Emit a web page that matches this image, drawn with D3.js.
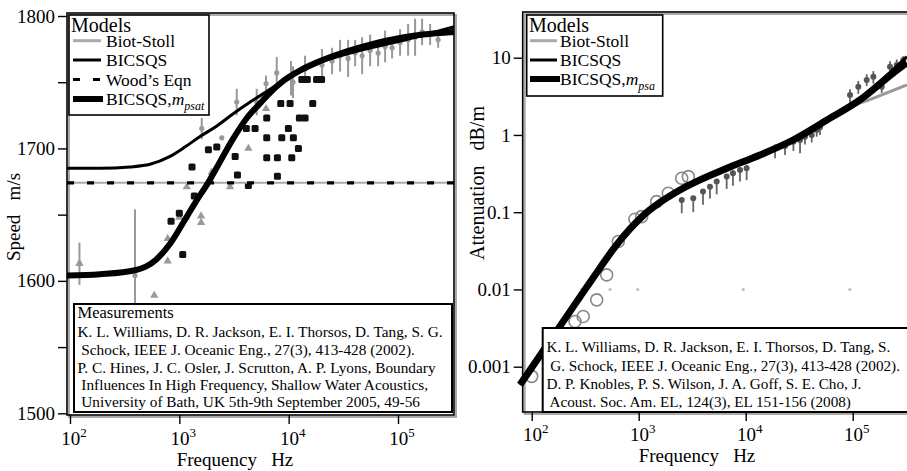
<!DOCTYPE html>
<html><head><meta charset="utf-8">
<script src="https://cdn.jsdelivr.net/npm/d3@7"></script>
<style>
body{margin:0;background:#fff}
svg{display:block;font-family:"Liberation Serif","Times New Roman",serif}
text{white-space:pre}
</style></head><body>
<svg id="c" width="907" height="471"></svg>
<script>
// ---------- tick data ----------
const speedTicks = [1500,1550,1600,1650,1700,1750,1800];
const speedTickLabels = ["1500","","1600","","1700","","1800"];
const freqTicks = [1e2,1e3,1e4,1e5];
const freqTickExp = ["2","3","4","5"];
const attTicks = [0.001,0.01,0.1,1,10];
const attTickLabels = ["0.001","0.01","0.1","1","10"];

// ---------- left panel: speed models ----------
const biotSpeedF = [94,332000];
const biotSpeedV = [1674,1674];
const woodSpeedF = [94,332000];
const woodSpeedV = [1674,1674];
const bicsqsSpeedF = [94,188,354,539,822,1123,1545,2117,3088,4445,6294,8935,12770,19430,36600,104500,332000];
const bicsqsSpeedV = [1685,1685,1686,1688,1694,1701,1709,1716,1726,1735,1743,1751,1758,1765,1772,1781,1792];
const mpsatSpeedF = [94,188,393,612,822,1123,1422,1830,2356,3088,4150,5470,6740,8935,12770,19430,59000,169000,332000];
const mpsatSpeedV = [1604,1605,1608,1616,1628,1646,1660,1674,1690,1707,1723,1734,1742,1751,1759,1766,1779,1786,1788];

// ---------- left panel: measurements ----------
const sqF = [840,1000,1074,1306,1370,1845,2200,3240,3400,4280,4100,4930,6300,6300,6300,7890,7890,8470,8650,9940,10300,10670,11040,12280,12530,13200,14130,14800,16600,18000,20000];
const sqV = [1645,1651,1620,1686,1664,1699,1701,1694,1680,1672,1715,1715,1723,1708,1693,1693,1679,1734,1708,1715,1734,1693,1708,1700,1723,1752,1723,1752,1734,1752,1752];
const triF = [122,590,783,783,1000,1150,1580,1580,1170,1977,2910,4280,6210];
const triV = [1613,1589,1615,1632,1648,1648,1649,1644,1671,1682,1671,1700,1730];
const barF = [122,393,1603,2445,3350,5100,6210,7780,10500,10960,14120,20200,24950,29520,34960,40540,46990,55600,65800,76200,88300,104500,123700,143300,166000,196600,232800];
const barV = [1613,1604,1715,1708,1735,1735,1749,1757,1753,1750,1760,1763,1766,1770,1768,1772,1770,1774,1772,1777,1776,1780,1782,1784,1788,1786,1782];
const barErr = [16,50,8,0,10,10,6,12,13,12,10,12,10,12,14,10,14,12,10,12,8,10,12,14,10,8,6];

// ---------- right panel: attenuation models ----------
const mpsaAttF = [77.8,119.6,183.9,282.8,434.8,600.5,829.3,1145,1582,2432,3740,6686,13600,27700,57500,117000,238000,321000];
const mpsaAttV = [5.83e-4,1.40e-3,3.35e-3,8.02e-3,0.0190,0.0356,0.0608,0.0951,0.134,0.194,0.262,0.371,0.55,0.86,1.56,2.84,6.3,8.6];
const bicsqsAttF = [77.8,119.6,183.9,282.8,434.8,600.5,829.3,1145,1582,2432,3740,6686,13600,27700,57500,117000,238000,321000];
const bicsqsAttV = [5.83e-4,1.40e-3,3.35e-3,8.02e-3,0.0190,0.0356,0.0608,0.0951,0.134,0.194,0.262,0.371,0.55,0.86,1.56,3.0,7.0,10.3];
const biotAttF = [77.8,119.6,183.9,282.8,434.8,600.5,829.3,1145,1582,2432,3740,6686,13600,27700,57500,76000,155000,321000];
const biotAttV = [5.83e-4,1.40e-3,3.35e-3,8.02e-3,0.0190,0.0356,0.0608,0.0951,0.134,0.194,0.262,0.371,0.55,0.86,1.56,2.0,2.98,4.43];

// ---------- right panel: measurements ----------
const circF = [100,254,303,405,502,645,922,1066,1472,1890,2525,2910];
const circV = [7.5e-4,0.00385,0.00446,0.00733,0.01546,0.0417,0.081,0.0877,0.137,0.176,0.275,0.289];
const ptF = [2525,3236,3990,4635,5355,6640,7600,8850,10200,18800,23300,27900,32200,35800,41400,46100,49500,94400,112800,135200,156000,186700,223300,257800,297300];
const ptV = [0.144,0.152,0.185,0.214,0.249,0.289,0.320,0.353,0.371,0.673,0.721,0.819,0.861,0.950,1.0,1.16,1.26,3.29,4.22,5.15,5.68,4.22,7.65,8.05,9.34];
const ptLo = [0.097,0.10,0.125,0.15,0.17,0.2,0.22,0.25,0.26,0.5,0.55,0.62,0.58,0.75,0.8,0.95,1.0,2.6,3.4,4.3,4.6,3.5,6.4,6.8,8.0];
const ptHi = [0.15,0.16,0.2,0.23,0.27,0.31,0.35,0.38,0.41,0.75,0.8,0.92,0.95,1.05,1.1,1.28,1.4,3.9,5.0,6.1,6.7,5.0,9.0,9.5,10.5];
const dotF = [295,540,980,9500,94000];
const dotV = [0.01,0.01,0.01,0.01,0.01];

// ---------- texts ----------
const leftLegend = ["Biot-Stoll","BICSQS","Wood\u2019s Eqn","BICSQS,"];
const rightLegend = ["Biot-Stoll","BICSQS","BICSQS,"];
const leftRefs = ["Measurements",
  "K. L. Williams, D. R. Jackson, E. I. Thorsos, D. Tang, S. G.",
  " Schock, IEEE J. Oceanic Eng., 27(3), 413-428 (2002).",
  "P. C. Hines, J. C. Osler, J. Scrutton, A. P. Lyons, Boundary",
  " Influences In High Frequency, Shallow Water Acoustics,",
  " University of Bath, UK 5th-9th September 2005, 49-56"];
const rightRefs = [
  "K. L. Williams, D. R. Jackson, E. I. Thorsos, D. Tang, S.",
  " G. Schock, IEEE J. Oceanic Eng., 27(3), 413-428 (2002).",
  "D. P. Knobles, P. S. Wilson, J. A. Goff, S. E. Cho, J.",
  " Acoust. Soc. Am. EL, 124(3), EL 151-156 (2008)"];

const svg = d3.select("#c");
const zip = (a,b) => a.map((v,i)=>[v,b[i]]);

// ================= LEFT PANEL =================
const xL = d3.scaleLog().domain([1e2,1e5]).range([70,398]);
const yL = d3.scaleLinear().domain([1500,1800]).range([413.3,16]);
const FL = {x0:67,y0:13,x1:454,y1:415};

const defs = svg.append("defs");
defs.append("clipPath").attr("id","clipL").append("rect")
  .attr("x",FL.x0).attr("y",FL.y0).attr("width",FL.x1-FL.x0).attr("height",FL.y1-FL.y0);

svg.append("rect").attr("x",FL.x0+2).attr("y",FL.y0+2).attr("width",FL.x1-FL.x0).attr("height",FL.y1-FL.y0)
  .attr("fill","none").attr("stroke","#aaa").attr("stroke-width",2);

const gL = svg.append("g").attr("clip-path","url(#clipL)");
const lineL = d3.line().x(d=>xL(d[0])).y(d=>yL(d[1])).curve(d3.curveMonotoneX);

const bars = zip(barF,barV).map((d,i)=>({f:d[0],v:d[1],e:barErr[i]}));
gL.selectAll(".eb").data(bars).join("line")
  .attr("x1",d=>xL(d.f)).attr("x2",d=>xL(d.f))
  .attr("y1",d=>yL(d.v-d.e)).attr("y2",d=>yL(d.v+d.e))
  .attr("stroke","#999").attr("stroke-width",2);
gL.selectAll(".ebd").data(bars).join("circle")
  .attr("cx",d=>xL(d.f)).attr("cy",d=>yL(d.v)).attr("r",2.6)
  .attr("fill","#999");
const tri = d3.symbol().type(d3.symbolTriangle).size(30);
gL.selectAll(".tri").data(zip(triF,triV)).join("path")
  .attr("d",tri).attr("transform",d=>`translate(${xL(d[0])},${yL(d[1])})`)
  .attr("fill","#9a9a9a");
gL.selectAll(".sq").data(zip(sqF,sqV)).join("rect")
  .attr("x",d=>xL(d[0])-3.5).attr("y",d=>yL(d[1])-3.5).attr("width",7).attr("height",7)
  .attr("rx",1.5).attr("fill","#111");

gL.append("path").datum(zip(biotSpeedF,biotSpeedV)).attr("d",lineL)
  .attr("fill","none").attr("stroke","#aaa").attr("stroke-width",2);
gL.append("path").datum(zip(woodSpeedF,woodSpeedV)).attr("d",lineL)
  .attr("fill","none").attr("stroke","#000").attr("stroke-width",3.2).attr("stroke-dasharray","7,13");
gL.append("path").datum(zip(mpsatSpeedF,mpsatSpeedV)).attr("d",lineL)
  .attr("fill","none").attr("stroke","#000").attr("stroke-width",6);
gL.append("path").datum(zip(bicsqsSpeedF,bicsqsSpeedV)).attr("d",lineL)
  .attr("fill","none").attr("stroke","#000").attr("stroke-width",3);

svg.append("rect").attr("x",FL.x0).attr("y",FL.y0).attr("width",FL.x1-FL.x0).attr("height",FL.y1-FL.y0)
  .attr("fill","none").attr("stroke","#000").attr("stroke-width",1.6);

const yAxL = svg.append("g").attr("transform",`translate(${FL.x0},0)`)
  .call(d3.axisLeft(yL).tickValues(speedTicks).tickSize(9).tickPadding(3).tickFormat((d,i)=>speedTickLabels[i]));
yAxL.select(".domain").remove();
yAxL.selectAll("line").attr("stroke","#000").attr("stroke-width",1.4);
yAxL.selectAll("text").attr("font-size",19).attr("font-family",'"Liberation Serif",serif').attr("fill","#000");

const xAxL = svg.append("g").attr("transform",`translate(0,${FL.y1})`)
  .call(d3.axisBottom(xL).tickValues(freqTicks).tickSize(9).tickFormat(""));
xAxL.select(".domain").remove();
xAxL.selectAll("line").attr("stroke","#000").attr("stroke-width",1.4);

function powLabels(xs, y, exps){
  freqTicks.forEach((f,i)=>{
    const t = svg.append("text").attr("x",xs(f)+4).attr("y",y).attr("text-anchor","middle")
      .attr("font-size",19).attr("fill","#000");
    t.append("tspan").text("10");
    t.append("tspan").attr("dy",-8).attr("font-size",13).text(exps[i]);
  });
}
powLabels(xL, 445, freqTickExp);

svg.append("text").attr("x",235).attr("y",466).attr("text-anchor","middle").attr("font-size",19)
  .text("Frequency   Hz");
svg.append("text").attr("transform","translate(20,217) rotate(-90)").attr("text-anchor","middle")
  .attr("font-size",19).text("Speed   m/s");

svg.append("rect").attr("x",69).attr("y",15).attr("width",140).attr("height",100)
  .attr("fill","#fff").attr("stroke","#000").attr("stroke-width",1.6);
svg.append("text").attr("x",71).attr("y",32).attr("font-size",20).text("Models");
const legLY = [40.7,60,79.5,99];
const legLStyle = [
  {c:"#aaa",w:3,da:null},{c:"#000",w:3,da:null},{c:"#000",w:3.2,da:"7,13"},{c:"#000",w:6,da:null}];
leftLegend.forEach((s,i)=>{
  svg.append("line").attr("x1",73).attr("x2",i===3?103:101).attr("y1",legLY[i]).attr("y2",legLY[i])
    .attr("stroke",legLStyle[i].c).attr("stroke-width",legLStyle[i].w)
    .attr("stroke-dasharray",legLStyle[i].da);
  const t = svg.append("text").attr("x",106).attr("y",legLY[i]+6).attr("font-size",17.5).text(s);
  if(i===3){
    t.append("tspan").attr("font-style","italic").text("m");
    t.append("tspan").attr("font-style","italic").attr("font-size",12).attr("dy",5).text("psat");
  }
});

svg.append("rect").attr("x",74).attr("y",304).attr("width",378).attr("height",108)
  .attr("fill","#fff").attr("stroke","#000").attr("stroke-width",2);
const refLY = [318,337,354.5,372.5,390,407];
leftRefs.forEach((s,i)=>{
  svg.append("text").attr("x",77.5).attr("y",refLY[i]).attr("font-size",i===0?16.5:15.3).text(s);
});

// ================= RIGHT PANEL =================
const xR = d3.scaleLog().domain([1e2,1e5]).range([531.7,852.7]);
const yR = d3.scaleLog().domain([0.001,10]).range([366.7,57.7]);
const FR = {x0:522.7,y0:12,x1:920,y1:412};

defs.append("clipPath").attr("id","clipR").append("rect")
  .attr("x",515).attr("y",FR.y0).attr("width",FR.x1-515).attr("height",FR.y1-FR.y0);

svg.append("rect").attr("x",FR.x0+2).attr("y",FR.y0+2).attr("width",FR.x1-FR.x0).attr("height",FR.y1-FR.y0)
  .attr("fill","none").attr("stroke","#aaa").attr("stroke-width",2);

const gR = svg.append("g").attr("clip-path","url(#clipR)");
const lineR = d3.line().x(d=>xR(d[0])).y(d=>yR(d[1])).curve(d3.curveMonotoneX);

gR.selectAll(".gd").data(zip(dotF,dotV)).join("circle")
  .attr("cx",d=>xR(d[0])).attr("cy",d=>yR(d[1])).attr("r",1.5).attr("fill","#bbb");
gR.selectAll(".oc").data(zip(circF,circV)).join("circle")
  .attr("cx",d=>xR(d[0])).attr("cy",d=>yR(d[1])).attr("r",6)
  .attr("fill","none").attr("stroke","#888").attr("stroke-width",1.6);

const pts = ptF.map((f,i)=>({f,v:ptV[i],lo:ptLo[i],hi:ptHi[i]}));
gR.selectAll(".pb").data(pts).join("line")
  .attr("x1",d=>xR(d.f)).attr("x2",d=>xR(d.f)).attr("y1",d=>yR(d.lo)).attr("y2",d=>yR(d.hi))
  .attr("stroke","#666").attr("stroke-width",1.8);
gR.selectAll(".pd").data(pts).join("circle")
  .attr("cx",d=>xR(d.f)).attr("cy",d=>yR(d.v)).attr("r",3).attr("fill","#555");

gR.append("path").datum(zip(biotAttF,biotAttV)).attr("d",lineR)
  .attr("fill","none").attr("stroke","#999").attr("stroke-width",3);
gR.append("path").datum(zip(mpsaAttF,mpsaAttV)).attr("d",lineR)
  .attr("fill","none").attr("stroke","#000").attr("stroke-width",7);
gR.append("path").datum(zip(bicsqsAttF,bicsqsAttV)).attr("d",lineR)
  .attr("fill","none").attr("stroke","#000").attr("stroke-width",3);

svg.append("rect").attr("x",FR.x0).attr("y",FR.y0).attr("width",FR.x1-FR.x0).attr("height",FR.y1-FR.y0)
  .attr("fill","none").attr("stroke","#000").attr("stroke-width",1.6);

const yAxR = svg.append("g").attr("transform",`translate(${FR.x0},0)`)
  .call(d3.axisLeft(yR).tickValues(attTicks).tickSize(9).tickPadding(3).tickFormat((d,i)=>attTickLabels[i]));
yAxR.select(".domain").remove();
yAxR.selectAll("line").attr("stroke","#000").attr("stroke-width",1.4);
yAxR.selectAll("text").attr("font-size",19).attr("font-family",'"Liberation Serif",serif').attr("fill","#000");

const xAxR = svg.append("g").attr("transform",`translate(0,${FR.y1})`)
  .call(d3.axisBottom(xR).tickValues(freqTicks).tickSize(9).tickFormat(""));
xAxR.select(".domain").remove();
xAxR.selectAll("line").attr("stroke","#000").attr("stroke-width",1.4);
powLabels(xR, 441, freqTickExp);

svg.append("text").attr("x",697).attr("y",462).attr("text-anchor","middle").attr("font-size",19)
  .text("Frequency   Hz");
svg.append("text").attr("transform","translate(484,183) rotate(-90)").attr("text-anchor","middle")
  .attr("font-size",20).text("Attenuation   dB/m");

svg.append("rect").attr("x",526.7).attr("y",15).attr("width",136).attr("height",81)
  .attr("fill","#fff").attr("stroke","#000").attr("stroke-width",1.6);
svg.append("text").attr("x",529).attr("y",31.5).attr("font-size",20).text("Models");
const legRY = [40.7,60,79];
const legRStyle = [{c:"#aaa",w:3},{c:"#000",w:3},{c:"#000",w:6}];
rightLegend.forEach((s,i)=>{
  svg.append("line").attr("x1",530).attr("x2",i===2?560:557).attr("y1",legRY[i]).attr("y2",legRY[i])
    .attr("stroke",legRStyle[i].c).attr("stroke-width",legRStyle[i].w);
  const t = svg.append("text").attr("x",560).attr("y",legRY[i]+6).attr("font-size",17.5).text(s);
  if(i===2){
    t.append("tspan").attr("font-style","italic").text("m");
    t.append("tspan").attr("font-style","italic").attr("font-size",12).attr("dy",5).text("psa");
  }
});

svg.append("rect").attr("x",542.7).attr("y",328).attr("width",380).attr("height",84)
  .attr("fill","#fff").attr("stroke","#000").attr("stroke-width",2);
const refRY = [352,371,389,407];
rightRefs.forEach((s,i)=>{
  svg.append("text").attr("x",546.5).attr("y",refRY[i]).attr("font-size",15.2).text(s);
});
</script>
</body></html>
